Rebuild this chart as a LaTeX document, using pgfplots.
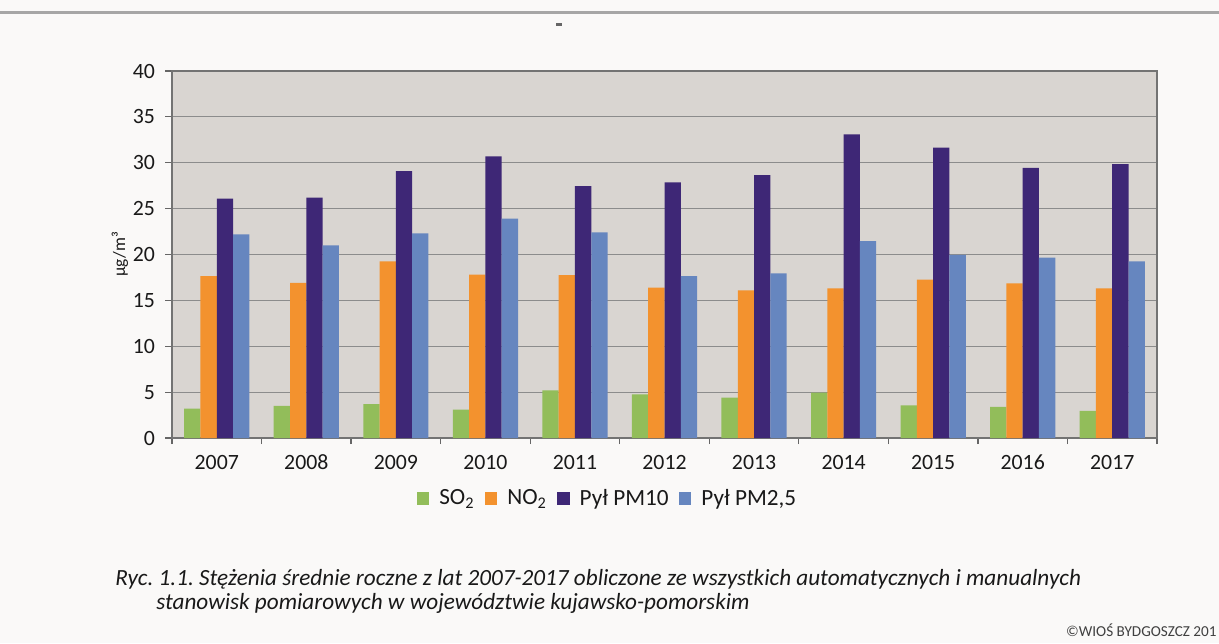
\documentclass[border=0pt]{standalone}
\usepackage{fontspec}
\setmainfont{Carlito}
\usepackage{pgfplots}
\pgfplotsset{compat=1.18}
\definecolor{pagebg}{HTML}{FAF9F8}
\definecolor{plotbg}{HTML}{D9D5D1}
\definecolor{cso}{HTML}{92BD5A}
\definecolor{cno}{HTML}{F3922E}
\definecolor{cpm}{HTML}{3E2776}
\definecolor{cpmb}{HTML}{6686BF}
\definecolor{rulegray}{HTML}{A6A6A6}
\frenchspacing
\begin{document}
\begin{tikzpicture}
% page 1219x643 px, 1px = 0.5pt
\fill[pagebg] (0,0) rectangle (609.5pt,321.5pt);
\useasboundingbox (0,0) rectangle (609.5pt,321.5pt);
\fill[rulegray] (0,314.5pt) rectangle (609.5pt,316pt);
\fill[black!60] (278pt,308.5pt) rectangle (281pt,310pt);
\begin{axis}[
  at={(86pt,102.5pt)}, anchor=south west,
  scale only axis, width=492.5pt, height=183.5pt,
  ybar=0pt, bar width=8.15pt,
  xmin=-0.5, xmax=10.5, ymin=0, ymax=40,
  enlarge x limits=false,
  xtick={0,1,2,3,4,5,6,7,8,9,10},
  xticklabels={2007,2008,2009,2010,2011,2012,2013,2014,2015,2016,2017},
  minor xtick={-0.5,0.5,1.5,2.5,3.5,4.5,5.5,6.5,7.5,8.5,9.5,10.5},
  ytick={0,5,...,40},
  xtick pos=bottom, ytick pos=left,
  tick align=outside,
  major x tick style={draw=none},
  minor x tick style={draw=black!60, line width=0.6pt},
  minor tick length=3pt,
  major tick length=3.5pt,
  ytick style={draw=black!60, line width=0.6pt},
  axis line style={draw=black!55, line width=0.8pt},
  ymajorgrids, grid style={draw=black!45, line width=0.5pt},
  axis background/.style={fill=plotbg},
  /pgf/number format/assume math mode=true,
  ticklabel style={font=\fontsize{10.9}{12}\selectfont, text=black!90},
  yticklabel style={xshift=-1.5pt},
  xticklabel style={anchor=north, text height=7.5pt, text depth=0pt, yshift=-1pt},
  ylabel={µg/m³},
  ylabel style={at={(axis description cs:-0.0528,0.5)}, anchor=center, font=\fontsize{8.7}{10}\selectfont, text=black!90},
  legend columns=4,
  legend style={at={(axis description cs:0.443,-0.165)}, anchor=center, draw=none, fill=none,
    font=\fontsize{11.6}{13}\selectfont, text=black!90, column sep=3pt, inner sep=0pt},
  legend image code/.code={\fill[#1] (0pt,-3.2pt) rectangle (6.4pt,3.2pt);},
]
\addplot[fill=cso, draw=none] coordinates {(0,3.2) (1,3.5) (2,3.7) (3,3.1) (4,5.2) (5,4.75) (6,4.4) (7,4.95) (8,3.55) (9,3.4) (10,2.95)};
\addplot[fill=cno, draw=none] coordinates {(0,17.65) (1,16.9) (2,19.25) (3,17.8) (4,17.75) (5,16.4) (6,16.1) (7,16.3) (8,17.25) (9,16.85) (10,16.3)};
\addplot[fill=cpm, draw=none] coordinates {(0,26.1) (1,26.2) (2,29.1) (3,30.7) (4,27.45) (5,27.85) (6,28.65) (7,33.1) (8,31.65) (9,29.45) (10,29.85)};
\addplot[fill=cpmb, draw=none] coordinates {(0,22.2) (1,21.0) (2,22.3) (3,23.9) (4,22.4) (5,17.65) (6,17.95) (7,21.45) (8,19.95) (9,19.65) (10,19.25)};
\legend{SO\textsubscript{2},NO\textsubscript{2},Pył PM10,{Pył PM2,5}}
\end{axis}
\node[anchor=base west, inner sep=0pt, font=\fontsize{11.6}{12}\selectfont\itshape, text=black!90] at (57.5pt,29pt)
  {Ryc. 1.1. Stężenia średnie roczne z lat 2007-2017 obliczone ze wszystkich automatycznych i manualnych};
\node[anchor=base west, inner sep=0pt, font=\fontsize{11.6}{12}\selectfont\itshape, text=black!90] at (78pt,17pt)
  {stanowisk pomiarowych w województwie kujawsko-pomorskim};
\node[anchor=base east, inner sep=0pt, font=\fontsize{7.6}{8}\selectfont, text=black!75] at (608.5pt,3.5pt)
  {©WIOŚ BYDGOSZCZ 201};
\end{tikzpicture}
\end{document}
